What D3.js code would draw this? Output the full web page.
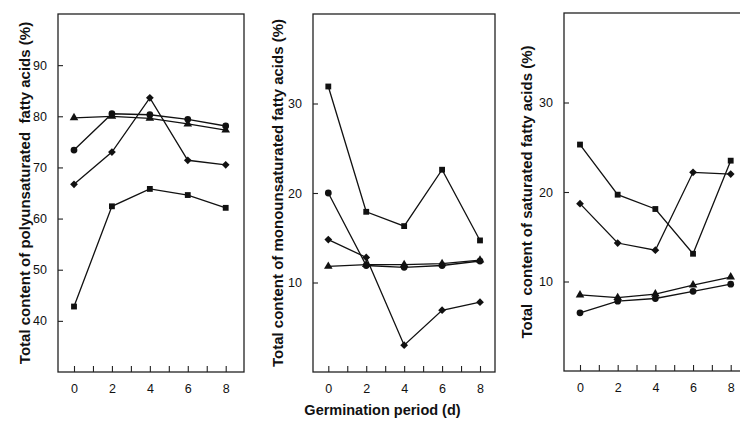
<!DOCTYPE html>
<html>
<head>
<meta charset="utf-8">
<script src="https://cdn.jsdelivr.net/npm/d3@7"></script>
<style>
  body { margin: 0; background: #fff; }
  svg { display: block; font-family: "Liberation Sans", Arial, sans-serif; }
</style>
</head>
<body>
<div id="chart"></div>
<script>
// germination days
var days = [0, 2, 4, 6, 8];
var xTicks = [0, 1, 2, 3, 4, 5, 6, 7, 8];

// polyunsaturated (%)
var pufaSquare   = [42.8, 62.4, 65.8, 64.6, 62.1];
var pufaCircle   = [73.4, 80.5, 80.3, 79.4, 78.1];
var pufaDiamond  = [66.7, 73.0, 83.6, 71.4, 70.5];
var pufaTriangle = [79.7, 80.0, 79.6, 78.5, 77.3];
var pufaTicks = [40, 50, 60, 70, 80, 90];

// monounsaturated (%)
var mufaSquare   = [31.9, 17.9, 16.3, 22.6, 14.7];
var mufaCircle   = [20.0, 11.9, 11.7, 11.9, 12.4];
var mufaDiamond  = [14.8, 12.8, 3.0, 6.9, 7.8];
var mufaTriangle = [11.8, 12.0, 12.0, 12.1, 12.5];
var mufaTicks = [10, 20, 30];

// saturated (%)
var sfaSquare   = [25.3, 19.7, 18.1, 13.1, 23.5];
var sfaCircle   = [6.5, 7.8, 8.1, 8.9, 9.7];
var sfaDiamond  = [18.7, 14.3, 13.5, 22.2, 22.0];
var sfaTriangle = [8.5, 8.2, 8.6, 9.6, 10.5];
var sfaTicks = [10, 20, 30];

var width = 740, height = 424;

var svg = d3.select("#chart").append("svg")
    .attr("width", width)
    .attr("height", height);

var panels = [
    { left: 58, right: 244, top: 14, bottom: 372, x0: 74, x8: 225.7,
      domain: [30, 100], ticks: pufaTicks, titleX: 25,
      title: "Total content of polyunsaturated\u00a0 fatty acids (%)",
      series: [pufaSquare, pufaCircle, pufaDiamond, pufaTriangle] },
    { left: 313, right: 495, top: 14, bottom: 372, x0: 328.3, x8: 480,
      domain: [0, 40], ticks: mufaTicks, titleX: 278,
      title: "Total content of monounsaturated fatty acids (%)",
      series: [mufaSquare, mufaCircle, mufaDiamond, mufaTriangle] },
    { left: 564, right: 746, top: 13, bottom: 371, x0: 580, x8: 730.7,
      domain: [0, 40], ticks: sfaTicks, titleX: 527,
      title: "Total\u00a0 content of saturated fatty acids (%)",
      series: [sfaSquare, sfaCircle, sfaDiamond, sfaTriangle] }
];

var markers = [
    { type: d3.symbolSquare, size: 34, rotate: 0 },
    { type: d3.symbolCircle, size: 36, rotate: 0 },
    { type: d3.symbolSquare, size: 30, rotate: 45 },
    { type: d3.symbolTriangle, size: 32, rotate: 0 }
];

panels.forEach(function (p) {
    var x = d3.scaleLinear().domain([0, 8]).range([p.x0, p.x8]);
    var y = d3.scaleLinear().domain(p.domain).range([p.bottom, p.top]);

    var g = svg.append("g");

    // frame
    g.append("rect")
        .attr("x", p.left)
        .attr("y", p.top)
        .attr("width", p.right - p.left)
        .attr("height", p.bottom - p.top)
        .attr("fill", "none")
        .attr("stroke", "#222")
        .attr("stroke-width", 1.3);

    // x axis, ticks pointing inward
    var xAxis = d3.axisBottom(x)
        .tickValues(xTicks)
        .tickSizeInner(-6)
        .tickSizeOuter(0)
        .tickPadding(12)
        .tickFormat(function (d) { return d % 2 === 0 ? d : ""; });
    var xg = g.append("g")
        .attr("transform", "translate(0," + p.bottom + ")")
        .call(xAxis);
    xg.select(".domain").remove();
    xg.selectAll("line").attr("stroke", "#222").attr("stroke-width", 1.1);
    xg.selectAll("text")
        .attr("font-size", 12.5)
        .attr("font-family", "Liberation Sans, Arial, sans-serif")
        .attr("fill", "#111");

    // y axis, ticks pointing inward
    var yAxis = d3.axisLeft(y)
        .tickValues(p.ticks)
        .tickSizeInner(-5)
        .tickSizeOuter(0)
        .tickPadding(11);
    var yg = g.append("g")
        .attr("transform", "translate(" + p.left + ",0)")
        .call(yAxis);
    yg.select(".domain").remove();
    yg.selectAll("line").attr("stroke", "#222").attr("stroke-width", 1.1);
    yg.selectAll("text")
        .attr("font-size", 12.5)
        .attr("font-family", "Liberation Sans, Arial, sans-serif")
        .attr("fill", "#111");

    // y title
    g.append("text")
        .attr("transform", "translate(" + p.titleX + "," + ((p.top + p.bottom) / 2) + ") rotate(-90)")
        .attr("text-anchor", "middle")
        .attr("dy", "0.35em")
        .attr("font-size", 15)
        .attr("font-weight", "bold")
        .attr("fill", "#111")
        .text(p.title);

    var line = d3.line()
        .x(function (d, i) { return x(days[i]); })
        .y(function (d) { return y(d); });

    p.series.forEach(function (vals, si) {
        var m = markers[si];
        g.append("path")
            .datum(vals)
            .attr("d", line)
            .attr("fill", "none")
            .attr("stroke", "#111")
            .attr("stroke-width", 1.3);

        g.selectAll(null)
            .data(vals)
            .enter().append("path")
            .attr("d", d3.symbol().type(m.type).size(m.size))
            .attr("transform", function (d, i) {
                return "translate(" + x(days[i]) + "," + y(d) + ") rotate(" + m.rotate + ")";
            })
            .attr("fill", "#111");
    });
});

// shared x title
svg.append("text")
    .attr("x", 382.5)
    .attr("y", 410)
    .attr("text-anchor", "middle")
    .attr("dy", "0.35em")
    .attr("font-size", 14.5)
    .attr("font-weight", "bold")
    .attr("fill", "#111")
    .text("Germination period (d)");
</script>
</body>
</html>
